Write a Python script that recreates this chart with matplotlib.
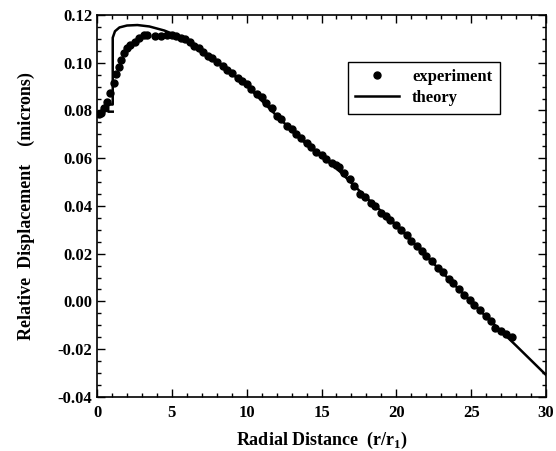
import matplotlib
matplotlib.use('Agg')
import matplotlib.pyplot as plt
from matplotlib.ticker import MultipleLocator

plt.rcParams['font.family'] = ['Liberation Serif', 'DejaVu Serif']
plt.rcParams['font.weight'] = 'bold'
plt.rcParams['mathtext.fontset'] = 'custom'
plt.rcParams['mathtext.rm'] = 'Liberation Serif:bold'
plt.rcParams['mathtext.bf'] = 'Liberation Serif:bold'

# experiment (dots)
r_exp = [0.1, 0.25, 0.47, 0.67, 0.87, 1.14, 1.27, 1.47, 1.6, 1.8, 2.0, 2.2, 2.54, 2.8,
         3.14, 3.34, 3.9, 4.3, 4.7, 5.0, 5.3, 5.6, 5.9, 6.2, 6.5, 6.8, 7.1, 7.4, 7.7,
         8.0, 8.4, 8.7, 9.0, 9.4, 9.7, 10.0, 10.3, 10.7, 11.0, 11.3, 11.7, 12.0, 12.3,
         12.7, 13.0, 13.3, 13.6, 14.0, 14.3, 14.6, 15.0, 15.3, 15.7, 16.0, 16.2, 16.5,
         16.9, 17.2, 17.6, 17.9, 18.3, 18.6, 19.0, 19.3, 19.6, 20.0, 20.3, 20.7, 21.0,
         21.4, 21.7, 22.0, 22.4, 22.8, 23.1, 23.5, 23.8, 24.2, 24.5, 24.9, 25.2, 25.6,
         26.0, 26.3, 26.6, 27.0, 27.3, 27.7]
u_exp = [0.0785, 0.0790, 0.0810, 0.0836, 0.0873, 0.0915, 0.0953, 0.0982, 0.1012, 0.1041,
         0.1062, 0.1074, 0.1087, 0.1104, 0.1116, 0.1116, 0.1110, 0.1112, 0.1118, 0.1115,
         0.1112, 0.1102, 0.1098, 0.1085, 0.1072, 0.1060, 0.1046, 0.1030, 0.1022, 0.1003,
         0.0988, 0.0968, 0.0955, 0.0938, 0.0925, 0.0910, 0.0888, 0.0868, 0.0855, 0.0832,
         0.0810, 0.0778, 0.0765, 0.0735, 0.0722, 0.0700, 0.0683, 0.0662, 0.0648, 0.0628,
         0.0612, 0.0598, 0.0580, 0.0572, 0.0565, 0.0538, 0.0515, 0.0485, 0.0450, 0.0438,
         0.0412, 0.0398, 0.0372, 0.0358, 0.0340, 0.0322, 0.0299, 0.0278, 0.0254, 0.0232,
         0.0212, 0.0190, 0.0170, 0.0139, 0.0122, 0.0094, 0.0078, 0.0050, 0.0025, 0.0005,
         -0.0014, -0.0038, -0.0060, -0.0080, -0.0112, -0.0125, -0.0135, -0.0150]

# theory (line)
r_th = [1.05, 0.75, 0.75, 1.05, 1.05, 1.2, 1.5, 2.0, 2.7, 3.5, 4.5, 5.5, 6.9, 8.0,
        10.0, 12.0, 14.0, 16.0, 18.0, 20.0, 22.0, 24.0, 26.0, 28.0, 30.0]
u_th = [0.0795, 0.0795, 0.0825, 0.0825, 0.1105, 0.1132, 0.1148, 0.1156, 0.1158, 0.1152,
        0.1135, 0.1110, 0.1052, 0.1003, 0.0905, 0.0778, 0.0658, 0.0558, 0.0435, 0.0320,
        0.0190, 0.0062, -0.0064, -0.0185, -0.0308]

fig = plt.figure(figsize=(5.56, 4.51), dpi=100)
ax = fig.add_axes([0.1745, 0.12, 0.8075, 0.8467])

ax.plot(r_exp, u_exp, 'o', color='black', markersize=5, label='experiment')
ax.plot(r_th, u_th, '-', color='black', linewidth=1.8, label='theory')

ax.set_xlim(0, 30)
ax.set_ylim(-0.04, 0.12)
ax.xaxis.set_major_locator(MultipleLocator(5))
ax.xaxis.set_minor_locator(MultipleLocator(1))
ax.yaxis.set_major_locator(MultipleLocator(0.02))
ax.yaxis.set_minor_locator(MultipleLocator(0.005))
ax.yaxis.set_major_formatter(plt.FuncFormatter(lambda v, p: f'{v:.2f}'))
ax.tick_params(which='both', direction='in', top=True, right=True, labelsize=12)
ax.tick_params(which='major', length=6, width=1)
ax.tick_params(which='minor', length=3, width=1)
ax.tick_params(axis='x', pad=6)
for s in ax.spines.values():
    s.set_linewidth(1.2)

ax.set_xlabel(r'Radial Distance  (r/r$_{\mathbf{1}}$)', fontsize=13, fontweight='bold',
              labelpad=6)
ax.set_ylabel('Relative  Displacement    (microns)', fontsize=13, fontweight='bold',
              labelpad=16)

leg = ax.legend(loc='upper left', bbox_to_anchor=(0.54, 0.9), fancybox=False,
                edgecolor='black', framealpha=1, fontsize=12, handlelength=2.6,
                borderpad=0.45, labelspacing=0.3)
leg.get_frame().set_linewidth(1.0)

fig.savefig('out.png', dpi=100)
